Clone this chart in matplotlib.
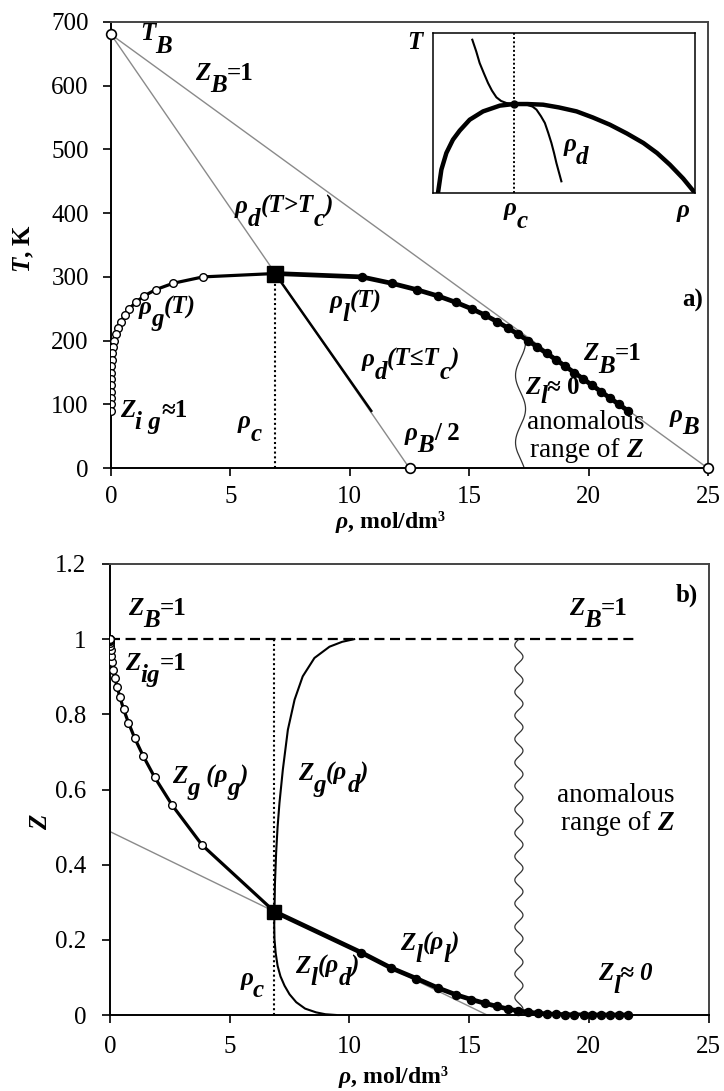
import matplotlib
matplotlib.use("Agg")
import matplotlib.pyplot as plt
import numpy as np

plt.rcParams["font.family"] = ["Liberation Serif", "DejaVu Sans"]
plt.rcParams["mathtext.fontset"] = "custom"
plt.rcParams["mathtext.it"] = "Liberation Serif:italic:bold"
plt.rcParams["mathtext.rm"] = "Liberation Serif:bold"
plt.rcParams["mathtext.bf"] = "Liberation Serif:bold"

# saturation data (ethane), T from 300 K down to 90 K
T_sat = [300, 290, 280, 270, 260, 250, 240, 230, 220, 210, 200,
         190, 180, 170, 160, 150, 140, 130, 120, 110, 100, 90]
rho_gas = [3.85, 2.60, 1.87, 1.38, 1.03, 0.77, 0.57, 0.42, 0.30, 0.21, 0.14,
           0.09, 0.055, 0.031, 0.016, 0.008, 0.003, 0.001, 0.0, 0.0, 0.0, 0.0]
rho_liq = [10.50, 11.75, 12.80, 13.70, 14.45, 15.10, 15.67, 16.16, 16.62, 17.05, 17.47,
           17.86, 18.25, 18.64, 19.02, 19.40, 19.78, 20.15, 20.53, 20.90, 21.28, 21.65]
Z_gas = [0.452, 0.558, 0.632, 0.690, 0.737, 0.778, 0.813, 0.845, 0.872, 0.897, 0.918,
         0.938, 0.955, 0.970, 0.981, 0.989, 0.994, 0.997, 0.999, 1.0, 1.0, 1.0]
Z_liq = [0.166, 0.125, 0.097, 0.072, 0.054, 0.041, 0.031, 0.023, 0.016, 0.011, 0.0075,
         0.0047, 0.0029, 0.0017, 0.0009, 0.0004, 0.0002, 0.0001, 0.0, 0.0, 0.0, 0.0]

rho_c, T_c, Z_c = 6.87, 305.3, 0.275
T_B, rho_B = 680, 25.0

# rectilinear diameter below Tc
rho_diam = [6.87, 10.9]
T_diam = [305.3, 90]

# Z along the diameter
rho_zg_d = [6.87, 6.89, 6.94, 7.0, 7.08, 7.22, 7.43, 7.71, 8.05, 8.54, 9.17, 9.7, 10.2]
Z_zg_d = [0.275, 0.35, 0.432, 0.50, 0.565, 0.653, 0.759, 0.839, 0.901, 0.950, 0.980, 0.993, 1.0]
rho_zl_d = [6.87, 6.86, 6.87, 6.92, 7.0, 7.12, 7.29, 7.5, 7.78, 8.15, 8.61, 9.0, 9.45]
Z_zl_d = [0.275, 0.24, 0.202, 0.165, 0.131, 0.103, 0.078, 0.055, 0.034, 0.017, 0.007, 0.002, 0.0]

# gray line in panel b
rho_zline = [0.0, 15.75]
Z_zline = [0.488, 0.0]

# inset sketch (arbitrary units)
dome_u = [0.019, 0.032, 0.051, 0.076, 0.102, 0.14, 0.191, 0.255, 0.308, 0.36, 0.42,
          0.48, 0.548, 0.61, 0.675, 0.74, 0.803, 0.855, 0.904, 0.955, 1.0]
dome_v = [0.0, 0.146, 0.25, 0.333, 0.39, 0.458, 0.51, 0.546, 0.556, 0.556, 0.552,
          0.535, 0.51, 0.472, 0.427, 0.372, 0.3125, 0.25, 0.177, 0.09, 0.0]
diam_u = [0.150, 0.165, 0.178, 0.195, 0.21, 0.225, 0.242, 0.26, 0.28, 0.308, 0.357,
          0.38, 0.395, 0.412, 0.427, 0.44, 0.452, 0.462, 0.471, 0.49]
diam_v = [0.958, 0.885, 0.8125, 0.745, 0.6875, 0.64, 0.598, 0.575, 0.5625, 0.556, 0.552,
          0.54, 0.521, 0.48, 0.4375, 0.375, 0.3125, 0.25, 0.1875, 0.073]
inset_c = 0.308

FS = 18


def rich(ax, x, y, parts, size=FS, sub=-9, coords="data"):
    """Draw text pieces in a row; code: b=bold, i=italic, _=subscript."""
    prev = None
    prev_dy = 0.0
    for s, code in parts:
        dy = sub if "_" in code else 0.0
        style = dict(fontsize=size, fontstyle="italic" if "i" in code else "normal",
                     fontweight="bold" if "b" in code else "normal",
                     textcoords="offset points", ha="left", annotation_clip=False)
        if prev is None:
            prev = ax.annotate(s, xy=(x, y), xycoords=coords, xytext=(0, dy),
                               va="baseline", **style)
        else:
            prev = ax.annotate(s, xy=(1, 0), xycoords=prev, xytext=(0, dy - prev_dy),
                               va="bottom", **style)
        prev_dy = dy
    return prev


def style_axes(ax, xpad, ypad):
    for side in ["left", "bottom"]:
        ax.spines[side].set_linewidth(1.4)
        ax.spines[side].set_color("black")
    for side in ["top", "right"]:
        ax.spines[side].set_linewidth(1.4)
        ax.spines[side].set_color("#444444")
    ax.tick_params(axis="x", direction="out", length=6, width=1.2, labelsize=FS, pad=xpad)
    ax.tick_params(axis="y", direction="out", length=6, width=1.2, labelsize=FS, pad=ypad)


fig = plt.figure(figsize=(7.24, 10.91), dpi=100)
W, H = 724, 1091
ax1 = fig.add_axes([111 / W, 1 - 468.3 / H, 597 / W, 446.6 / H])
ax2 = fig.add_axes([110 / W, 1 - 1015 / H, 598.5 / W, 451 / H])

# ---------------- panel a ----------------
gray = "#8a8a8a"
ax1.plot([0, rho_B], [T_B, 0], color=gray, lw=1.0, zorder=1)
ax1.plot([0, rho_B / 2], [T_B, 0], color=gray, lw=1.0, zorder=1)
ax1.plot([rho_c, rho_c], [0, T_c], color="black", lw=1.5, ls=(0, (1, 1.3)), zorder=2)
ax1.plot(rho_diam, T_diam, color="black", lw=1.8, zorder=3)

tw = np.linspace(0, 198, 300)
ax1.plot(17.15 + 0.21 * np.cos(2 * np.pi * (198 - tw) / 105), tw, color="#333333", lw=0.9, zorder=2)

ax1.plot(rho_gas[::-1] + [rho_c], T_sat[::-1] + [T_c], color="black", lw=2.3, zorder=4)
ax1.plot([rho_c] + rho_liq, [T_c] + T_sat, color="black", lw=3.4, zorder=4)
ax1.plot(rho_gas, T_sat, "o", ms=5.5, mfc="white", mec="black", mew=1.0, zorder=5)
ax1.plot(rho_liq, T_sat, "o", ms=5.8, color="black", zorder=5)
ax1.plot([rho_c], [T_c], "s", ms=11, color="black", zorder=6)
ax1.plot([0, rho_B / 2, rho_B], [T_B, 0, 0], "o", ms=7, mfc="white", mec="black",
         mew=1.2, zorder=7, clip_on=False)

ax1.set_xlim(0, 25)
ax1.set_ylim(0, 700)
ax1.set_xticks(range(0, 26, 5))
ax1.set_yticks(range(0, 701, 100))
style_axes(ax1, 7, 10)
ax1.set_xlabel(r"$\rho$, mol/dm³", fontsize=17, fontweight="bold")
ax1.xaxis.set_label_coords(0.467, -0.092)
ax1.set_ylabel("$T$, K", fontsize=FS, fontweight="bold")
ax1.yaxis.set_label_coords(-0.125, 0.493)

rich(ax1, 1.21, 671, [("T", "bi"), ("B", "bi_")])
rich(ax1, 3.52, 609, [("Z", "bi"), ("B", "bi_"), ("=1", "b")])
rich(ax1, 5.19, 400, [("ρ", "bi"), ("d", "bi_"), ("(T>T", "bi"), ("c", "bi_"), (")", "bi")])
rich(ax1, 1.15, 242, [("ρ", "bi"), ("g", "bi_"), ("(T)", "bi")])
rich(ax1, 0.38, 81, [("Z", "bi"), ("i g", "bi_"), ("≈1", "b")])
rich(ax1, 5.32, 63, [("ρ", "bi"), ("c", "bi_")])
rich(ax1, 9.17, 251, [("ρ", "bi"), ("l", "bi_"), ("(T)", "bi")])
rich(ax1, 10.5, 160, [("ρ", "bi"), ("d", "bi_"), ("(T≤T", "bi"), ("c", "bi_"), (")", "bi")])
rich(ax1, 12.3, 45, [("ρ", "bi"), ("B", "bi_"), ("/ 2", "b")])
rich(ax1, 17.34, 116, [("Z", "bi"), ("l", "bi_"), ("≈ 0", "b")], sub=-6)
rich(ax1, 17.4, 62, [("anomalous", "")], size=19.5)
rich(ax1, 17.55, 18, [("range of ", ""), ("Z", "bi")], size=19.5)
rich(ax1, 19.77, 169, [("Z", "bi"), ("B", "bi_"), ("=1", "b")])
rich(ax1, 23.4, 73, [("ρ", "bi"), ("B", "bi_")])
ax1.text(24.8, 253, "a)", fontsize=FS, fontweight="bold", ha="right", va="baseline")

# inset
axi = fig.add_axes([433 / W, 1 - 193 / H, 262 / W, 160 / H])
axi.plot([inset_c, inset_c], [0, 1], color="black", lw=1.4, ls=(0, (1, 1.2)))
axi.plot(dome_u, dome_v, color="black", lw=3.2, solid_capstyle="round")
axi.plot(diam_u, diam_v, color="black", lw=1.5)
axi.plot([inset_c], [0.556], "o", ms=5, color="black")
axi.set_xlim(0, 1)
axi.set_ylim(0, 1)
axi.set_xticks([])
axi.set_yticks([])
for s in axi.spines.values():
    s.set_linewidth(1.1)
rich(axi, -0.1, 0.9, [("T", "bi")], coords="axes fraction")
rich(axi, 0.27, -0.14, [("ρ", "bi"), ("c", "bi_")], coords="axes fraction")
rich(axi, 0.93, -0.15, [("ρ", "bi")], coords="axes fraction")
rich(axi, 0.497, 0.26, [("ρ", "bi"), ("d", "bi_")], coords="axes fraction")

# ---------------- panel b ----------------
ax2.plot(rho_zline, Z_zline, color=gray, lw=1.0, zorder=1)
ax2.plot([0, 22], [1, 1], color="black", lw=1.6, dashes=(4.5, 2.5), zorder=2)
ax2.plot([rho_c, rho_c], [0, 1], color="black", lw=1.5, ls=(0, (1, 1.3)), zorder=2)
zw = np.linspace(0, 1, 500)
ax2.plot(17.08 + 0.17 * np.sin(2 * np.pi * zw / 0.0625), zw, color="#333333", lw=0.9, zorder=2)

ax2.plot(rho_zg_d, Z_zg_d, color="black", lw=1.5, zorder=3)
ax2.plot(rho_zl_d, Z_zl_d, color="black", lw=1.5, zorder=3)
ax2.plot(rho_gas[::-1] + [rho_c], Z_gas[::-1] + [Z_c], color="black", lw=2.3, zorder=4)
ax2.plot([rho_c] + rho_liq, [Z_c] + Z_liq, color="black", lw=3.4, zorder=4)
ax2.plot(rho_gas, Z_gas, "o", ms=5.5, mfc="white", mec="black", mew=1.0, zorder=5)
ax2.plot(rho_liq, Z_liq, "o", ms=5.8, color="black", zorder=5, clip_on=False)
ax2.plot([rho_c], [Z_c], "s", ms=9.5, color="black", zorder=6)

ax2.set_xlim(0, 25)
ax2.set_ylim(0, 1.2)
ax2.set_xticks(range(0, 26, 5))
ax2.set_yticks([0, 0.2, 0.4, 0.6, 0.8, 1.0, 1.2])
ax2.set_yticklabels(["0", "0.2", "0.4", "0.6", "0.8", "1", "1.2"])
style_axes(ax2, 9, 11)
ax2.set_xlabel(r"$\rho$, mol/dm³", fontsize=17, fontweight="bold")
ax2.xaxis.set_label_coords(0.473, -0.108)
ax2.set_ylabel("$Z$", fontsize=FS, fontweight="bold")
ax2.yaxis.set_label_coords(-0.097, 0.428)

rich(ax2, 0.75, 1.065, [("Z", "bi"), ("B", "bi_"), ("=1", "b")])
rich(ax2, 0.63, 0.919, [("Z", "bi"), ("ig", "bi_"), ("=1", "b")])
rich(ax2, 2.59, 0.618, [("Z", "bi"), ("g", "bi_"), (" (ρ", "bi"), ("g", "bi_"), (")", "bi")])
rich(ax2, 7.87, 0.626, [("Z", "bi"), ("g", "bi_"), ("(ρ", "bi"), ("d", "bi_"), (")", "bi")])
rich(ax2, 19.18, 1.065, [("Z", "bi"), ("B", "bi_"), ("=1", "b")])
rich(ax2, 18.69, 0.568, [("anomalous", "")], size=19.5)
rich(ax2, 18.83, 0.493, [("range of ", ""), ("Z", "bi")], size=19.5)
rich(ax2, 5.44, 0.08, [("ρ", "bi"), ("c", "bi_")])
rich(ax2, 7.74, 0.112, [("Z", "bi"), ("l", "bi_"), ("(ρ", "bi"), ("d", "bi_"), (")", "bi")])
rich(ax2, 12.13, 0.173, [("Z", "bi"), ("l", "bi_"), ("(ρ", "bi"), ("l", "bi_"), (")", "bi")])
rich(ax2, 20.38, 0.093, [("Z", "bi"), ("l", "bi_"), ("≈ 0", "bi")])
ax2.text(24.56, 1.10, "b)", fontsize=FS, fontweight="bold", ha="right", va="baseline")

fig.savefig("out.png", dpi=100)
